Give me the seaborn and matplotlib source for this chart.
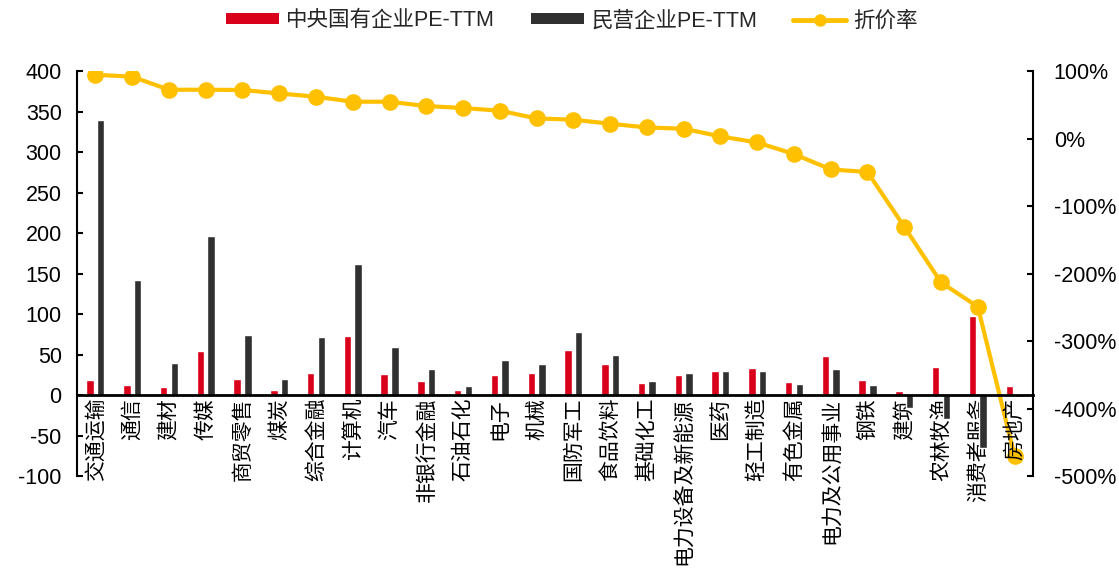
import numpy as np
import pandas as pd
import matplotlib
matplotlib.use("Agg")
import matplotlib.pyplot as plt
from matplotlib.ticker import PercentFormatter, MultipleLocator
from matplotlib.patches import Patch
from matplotlib.lines import Line2D
import seaborn as sns

# Industries, ordered by discount rate
industries = ["交通运输", "通信", "建材", "传媒", "商贸零售", "煤炭", "综合金融", "计算机", "汽车",
              "非银行金融", "石油石化", "电子", "机械", "国防军工", "食品饮料", "基础化工",
              "电力设备及新能源", "医药", "轻工制造", "有色金属", "电力及公用事业", "钢铁",
              "建筑", "农林牧渔", "消费者服务", "房地产"]

# PE-TTM of central SOEs and private firms
soe_pe = [18.2, 12.0, 10.5, 54.2, 20.3, 6.7, 27.7, 73.0, 26.5, 17.0, 6.7, 25.3, 27.3,
          55.7, 38.0, 15.4, 24.4, 29.3, 33.1, 16.3, 48.4, 19.1, 4.7, 34.0, 97.3, 10.9]
private_pe = [339.0, 142.2, 39.7, 196.5, 74.0, 19.8, 71.5, 162.0, 58.7, 31.8, 11.6, 43.0, 38.9,
              77.2, 48.8, 17.9, 27.4, 30.2, 30.2, 13.0, 32.3, 12.0, -15.5, -30.0, -65.0, -3.0]

# Discount rate of SOE valuation versus private firms
discount = [0.945, 0.916, 0.723, 0.723, 0.719, 0.668, 0.619, 0.545, 0.545, 0.481, 0.452,
            0.412, 0.298, 0.279, 0.219, 0.164, 0.145, 0.031, -0.058, -0.230, -0.458,
            -0.496, -1.307, -2.132, -2.492, -4.699]

soe_name = "中央国有企业PE-TTM"
private_name = "民营企业PE-TTM"
discount_name = "折价率"

RED = "#D9001B"
DARK = "#303030"
GOLD = "#FFC000"
FS = 15.5

sns.set_theme(style="white")
plt.rcParams["font.family"] = ["Liberation Sans", "Noto Sans CJK SC", "DejaVu Sans"]
plt.rcParams["axes.unicode_minus"] = False

df = pd.DataFrame({
    "行业": industries * 2,
    "PE": soe_pe + private_pe,
    "类型": [soe_name] * len(industries) + [private_name] * len(industries),
})

fig = plt.figure(figsize=(11.19, 5.70), dpi=100)
ax = fig.add_axes([0.0688, 0.1649, 0.9231 - 0.0688, 0.8754 - 0.1649])
ax2 = ax.twinx()

sns.barplot(data=df, x="行业", y="PE", hue="类型", palette=[RED, DARK],
            width=0.58, gap=0.3, saturation=1, errorbar=None, legend=False, ax=ax)

sns.lineplot(x=np.arange(len(industries)), y=discount, ax=ax2, color=GOLD, lw=3,
             marker="o", markersize=12, markeredgewidth=0, sort=False, legend=False)

# Left axis: PE values
ax.set_ylim(-100, 400)
ax.yaxis.set_major_locator(MultipleLocator(50))
ax.set_xlim(-0.5, len(industries) - 0.5)
ax.set_xlabel("")
ax.set_ylabel("")
for s in ("top", "right"):
    ax.spines[s].set_visible(False)
ax.spines["bottom"].set_position(("data", 0))
ax.spines["bottom"].set_linewidth(2.0)
ax.spines["left"].set_linewidth(1.5)
for sp in ax.spines.values():
    sp.set_color("black")
ax.tick_params(axis="y", direction="in", length=4, width=1.5, labelsize=FS, pad=11,
               colors="black")
ax.tick_params(axis="x", length=0, labelsize=15, labelrotation=90, pad=2, colors="black")

# Right axis: discount rate
ax2.set_ylim(-5, 1)
ax2.yaxis.set_major_locator(MultipleLocator(1))
ax2.yaxis.set_major_formatter(PercentFormatter(1.0, decimals=0))
ax2.set_ylabel("")
for s in ("top", "left", "bottom"):
    ax2.spines[s].set_visible(False)
ax2.spines["right"].set_linewidth(1.5)
ax2.spines["right"].set_color("black")
ax2.tick_params(axis="y", direction="in", length=4, width=1.5, labelsize=FS, pad=15,
                colors="black")

# Category labels sit above the discount line
ax.set_zorder(ax2.get_zorder() + 1)
ax.patch.set_visible(False)

handles = [
    Patch(facecolor=RED, edgecolor="none"),
    Patch(facecolor=DARK, edgecolor="none"),
    Line2D([], [], color=GOLD, lw=3.5, marker="o", markersize=9, markeredgewidth=0),
]
fig.legend(handles, [soe_name, private_name, discount_name], loc="center",
           bbox_to_anchor=(0.511, 1 - 21 / 570), ncol=3, frameon=False, fontsize=FS,
           handlelength=2.45, handleheight=0.4, handletextpad=0.33, columnspacing=1.7)

fig.savefig("out.png", dpi=100)
